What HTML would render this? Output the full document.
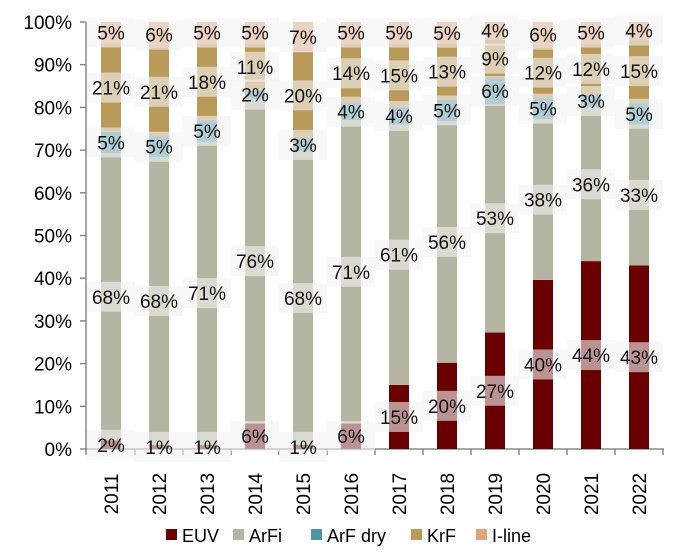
<!DOCTYPE html>
<html><head><meta charset="utf-8"><style>
body{margin:0;background:#fff;}
svg text{font-family:"Liberation Sans",Arial,sans-serif;}
</style></head><body>
<svg id="chart" width="700" height="555" xmlns="http://www.w3.org/2000/svg"></svg>
<script>
const years=["2011","2012","2013","2014","2015","2016","2017","2018","2019","2020","2021","2022"];
const euv=[2,1,1,6,1,6,15,20,27,40,44,43];
const arfi=[68,68,71,76,68,71,61,56,53,38,36,33];
const arfdry=[5,5,5,2,3,4,4,5,6,5,3,5];
const krf=[21,21,18,11,20,14,15,13,9,12,12,15];
const iline=[5,6,5,5,7,5,5,5,4,6,5,4];
const yTicks=[0,10,20,30,40,50,60,70,80,90,100];
const seriesNames=["EUV","ArFi","ArF dry","KrF","I-line"];
const colors=["#6b0000","#b5b5a2","#4e95a8","#b99a58","#e4a27e"];
const series=[euv,arfi,arfdry,krf,iline];
const NS="http://www.w3.org/2000/svg";
const svg=document.getElementById('chart');
const y0=449,y1=22,x0=111,dx=48,bw=20;
const Y=v=>y0-(y0-y1)*v/100;
const X=i=>x0+dx*i;
function mk(t,a){const e=document.createElementNS(NS,t);for(const k in a)e.setAttribute(k,a[k]);svg.appendChild(e);return e;}
let ax=mk('line',{x1:86,y1:y1,x2:86,y2:y0,stroke:'#888','stroke-width':1.5});


yTicks.forEach(t=>{
  const l=mk('line',{x1:80,x2:86,y1:Y(t),y2:Y(t),stroke:'#888','stroke-width':1.5});
  
  
  const tx=mk('text',{x:72,y:Y(t)+7,'text-anchor':'end','font-size':19,fill:'#000'});
  tx.textContent=t+'%';
  
  
});
let xa=mk('line',{x1:86,y1:y0,x2:664,y2:y0,stroke:'#888','stroke-width':1.5});


for(let i=0;i<=years.length;i++){
  const xx=86+dx*i+(i==0?0:1);
  const l=mk('line',{x1:xx,x2:xx,y1:y0,y2:y0+6,stroke:'#888','stroke-width':1.5});
  
  
}
const labels=[];
years.forEach((yr,i)=>{
  const tot=series.reduce((s,a)=>s+a[i],0);
  let acc=0;
  series.forEach((a,k)=>{
    const v=a[i]*100/tot;
    const r=mk('rect',{x:X(i)-bw/2,y:Y(acc+v),width:bw,height:Y(acc)-Y(acc+v),fill:colors[k]});
    
    
    labels.push([X(i),Y(acc+v/2),a[i]]);
    acc+=v;
  });
  const t=mk('text',{transform:`translate(${X(i)+7},${y0+45}) rotate(-90)`,'text-anchor':'middle','font-size':19,fill:'#000'});
  t.textContent=yr;
  
  
});
labels.forEach(([x,y,v])=>{
  const b=mk('rect',{x:x-24,y:y-15,width:48,height:30,fill:'#f4f4f4','fill-opacity':0.6});
  
  
  const t=mk('text',{x:x,y:y+7,'text-anchor':'middle','font-size':19,fill:'#111'});
  t.textContent=v+'%';
  
  
});
const lx=[166,233,311,411,476];
seriesNames.forEach((n,k)=>{
  const r=mk('rect',{x:lx[k],y:529,width:11,height:11,fill:colors[k]});
  
  
  const t=mk('text',{x:lx[k]+16,y:542,'font-size':18,fill:'#000'});
  t.textContent=n;
  
  
});
</script>
</body></html>
